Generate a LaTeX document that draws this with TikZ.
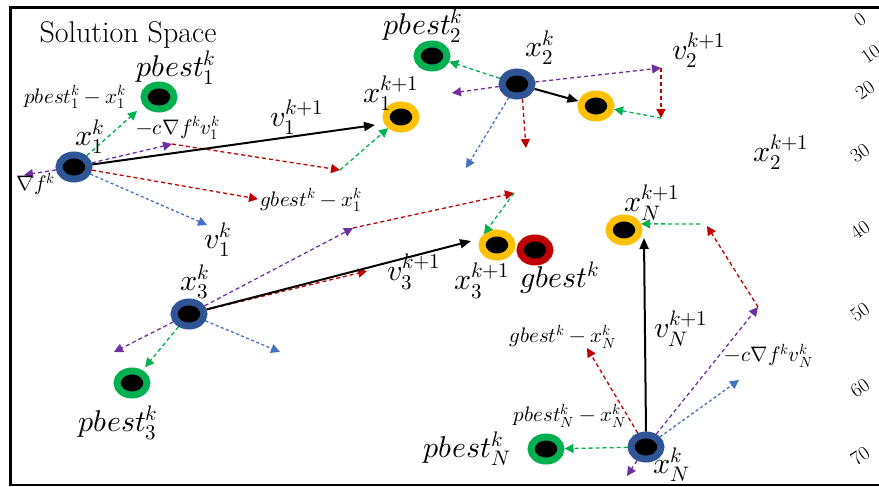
\documentclass[tikz,border=0pt]{standalone}
\usepackage{fontspec}
\usepackage{unicode-math}
\usetikzlibrary{arrows.meta,shapes.geometric}
\definecolor{cgreen}{HTML}{00B050}
\definecolor{cpurple}{HTML}{7030A0}
\definecolor{cred}{HTML}{C00000}
\definecolor{cblue}{HTML}{4472C4}
\definecolor{nblue}{HTML}{2F5597}
\definecolor{nyellow}{HTML}{FFC000}
\tikzset{
  part/.style={ellipse, fill=black, line width=7pt, minimum width=30pt, minimum height=24pt, inner sep=0pt},
  cur/.style={part, draw=nblue},
  pb/.style={part, draw=cgreen},
  nx/.style={part, draw=nyellow},
  gb/.style={part, draw=cred},
  big/.style={font=\fontsize{30}{32}\selectfont, inner sep=0pt},
  sml/.style={font=\fontsize{21}{23}\selectfont, inner sep=0pt},
  tip/.style={-{Triangle[length=9pt,width=9pt]}},
  dg/.style={tip, draw=cgreen, line width=1.3pt, dash pattern=on 4pt off 3pt},
  dp/.style={tip, draw=cpurple, line width=1.3pt, dash pattern=on 4pt off 3pt},
  dr/.style={tip, draw=cred, line width=1.3pt, dash pattern=on 4pt off 3pt},
  db/.style={tip, draw=cblue, line width=1.3pt, dash pattern=on 3pt off 2.5pt},
  move/.style={-{Triangle[length=11pt,width=9pt]}, line width=2pt, draw=black},
  num/.style={font=\fontsize{20}{20}\selectfont, rotate=35, inner sep=0pt}
}
\begin{document}
\begin{tikzpicture}[x=1pt,y=-1pt]
\useasboundingbox (0,0) rectangle (879,487);
\fill[white] (0,0) rectangle (879,487);
% frame
\draw[line width=3pt] (879,8) -- (10,8) -- (10,485);
\draw[line width=1.5pt] (9,485) -- (879,485);

\node[font=\fontsize{30}{32}\selectfont, inner sep=0pt] (title) at (128,35) {Solution Space};

% particles
\node[cur] (x1) at (74,167) {};
\node[pb]  (p1) at (159,97) {};
\node[nx]  (y1) at (401,117) {};
\node[pb]  (p2) at (432,56) {};
\node[cur] (x2) at (517,84) {};
\node[nx]  (y2) at (596,106) {};
\node[cur] (x3) at (189,314) {};
\node[pb]  (p3) at (132,383) {};
\node[nx]  (y3) at (497,245) {};
\node[gb]  (g)  at (535,250) {};
\node[nx]  (yN) at (624,230) {};
\node[cur] (xN) at (646,447) {};
\node[pb]  (pN) at (546,449) {};

% free ends
\coordinate (a1) at (172,144);
\coordinate (a2) at (24,175);
\coordinate (a3) at (340,170);
\coordinate (a4) at (258,199);
\coordinate (a5) at (207,225);
\coordinate (a6) at (137,111);
\coordinate (a7) at (375,125);
\coordinate (b2) at (452,93);
\coordinate (b3) at (661,68);
\coordinate (b4) at (661,118);
\coordinate (b5) at (466,168);
\coordinate (b6) at (526,148);
\coordinate (c1) at (353,228);
\coordinate (c2) at (514,193);
\coordinate (c4) at (367,271);
\coordinate (c5) at (471,241);
\coordinate (c6) at (114,352);
\coordinate (c8) at (280,352);
\coordinate (d1) at (644,238);
\coordinate (d2) at (758,307);
\coordinate (d3) at (707,226);
\coordinate (d4) at (700,224);
\coordinate (d5) at (739,380);
\coordinate (d6) at (627,476);
\coordinate (d7) at (587,348);

% particle 1
\draw[dg] (x1) -- (a6);
\draw[dp] (x1) -- (a1);
\draw[dp] (x1) -- (a2);
\draw[dr] (a1) -- (a3);
\draw[dg] (a3) -- (y1);
\draw[dr] (x1) -- (a4);
\draw[db] (x1) -- (a5);
\draw[move] (x1) -- (a7);

% particle 2
\draw[dg] (x2) -- (p2);
\draw[dp] (x2) -- (b2);
\draw[dp] (x2) -- (b3);
\draw[dr] (b3) -- (b4);
\draw[dg] (b4) -- (y2);
\draw[db] (x2) -- (b5);
\draw[dr] (x2.-70) -- (b6);
\draw[move] (x2) -- (y2);

% particle 3
\draw[dp] (x3) -- (c1);
\draw[dr] (c1) -- (c2);
\draw[dg] (c2) -- (y3.north west);
\draw[dr] (x3) -- (c4);
\draw[move] (x3) -- (c5);
\draw[dp] (x3) -- (c6);
\draw[dg, shorten >=4pt] (x3) -- (p3);
\draw[db] (x3) -- (c8);

% particle N
\draw[dp] (xN) -- (d2);
\draw[dr] (d2) -- (d3);
\draw[dg] (d4) -- (yN.20);
\draw[db] (xN) -- (d5);
\draw[dp] (xN) -- (d6);
\draw[dr] (xN) -- (d7);
\draw[dg] (xN) -- (pN);
\draw[move] (xN.north) -- (d1);

% labels
\node[big] (l1) at (176,68) {$pbest_1^k$};
\node[sml] (l2) at (75,97) {$pbest_1^k - x_1^k$};
\node[big] (l3) at (90,137) {$x_1^k$};
\node[sml] (l4) at (178,128) {$-c\nabla f^k v_1^k$};
\node[big] (l5) at (297,117) {$v_1^{k+1}$};
\node[sml] (l6) at (36,184) {$\nabla f^k$};
\node[sml] (l7) at (311,200) {$gbest^k - x_1^k$};
\node[big] (l8) at (218,240) {$v_1^k$};
\node[big] (l9) at (423,26) {$pbest_2^k$};
\node[big] (l10) at (391,93) {$x_1^{k+1}$};
\node[big] (l11) at (540,48) {$x_2^k$};
\node[big] (l12) at (699,50) {$v_2^{k+1}$};
\node[big] (l13) at (781,152) {$x_2^{k+1}$};
\node[big] (l14) at (652,203) {$x_N^{k+1}$};
\node[big] (l15) at (195,282) {$x_3^k$};
\node[big] (l16) at (414,272) {$v_3^{k+1}$};
\node[big] (l17) at (482,281) {$x_3^{k+1}$};
\node[big] (l18) at (560,278) {$gbest^k$};
\node[big] (l19) at (118,423) {$pbest_3^k$};
\node[sml] (l20) at (563,337) {$gbest^k - x_N^k$};
\node[big] (l21) at (681,329) {$v_N^{k+1}$};
\node[sml] (l22) at (769,356) {$-c\nabla f^k v_N^k$};
\node[sml] (l23) at (570,416) {$pbest_N^k - x_N^k$};
\node[big] (l24) at (467,449) {$pbest_N^k$};
\node[big] (l25) at (672,465) {$x_N^k$};

% axis numbers
\node[num] (n0) at (860,20) {0};
\node[num] (n1) at (871,54) {10};
\node[num] (n2) at (865,90) {20};
\node[num] (n3) at (860,153) {30};
\node[num] (n4) at (860,230) {40};
\node[num] (n5) at (860,312) {50};
\node[num] (n6) at (860,388) {60};
\node[num] (n7) at (860,456) {70};
\end{tikzpicture}
\end{document}
